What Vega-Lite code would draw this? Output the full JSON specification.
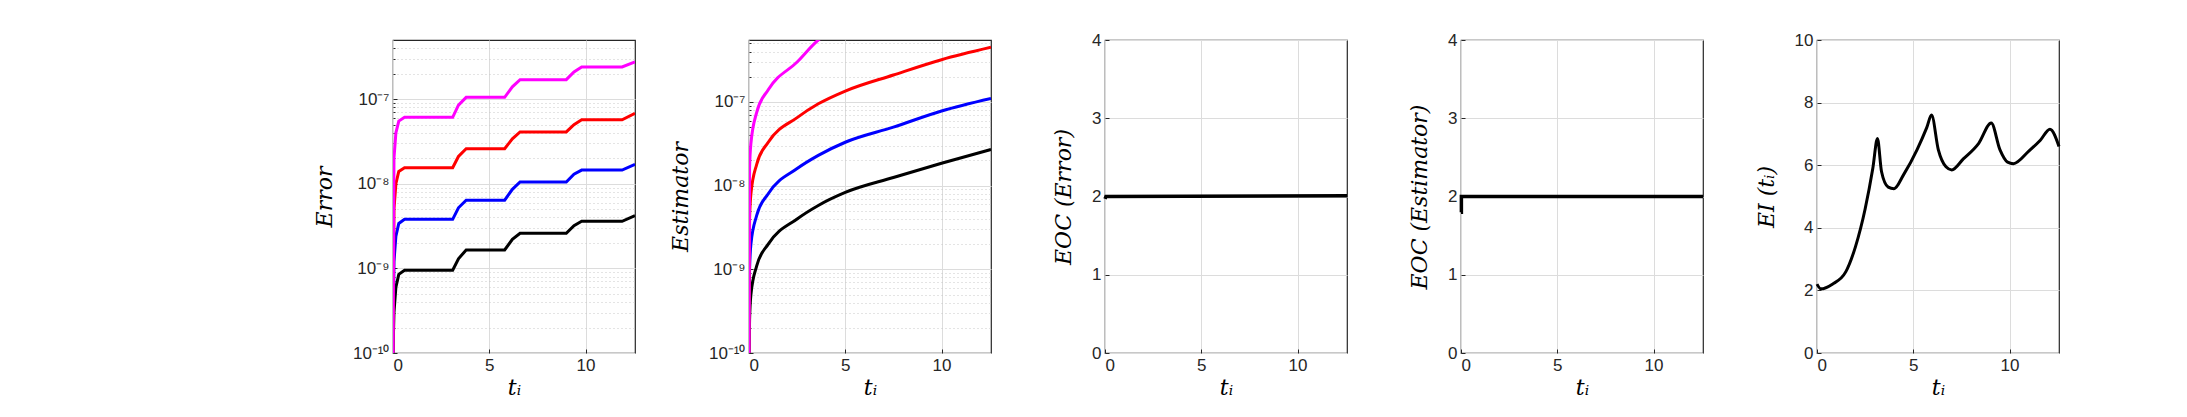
{
"$schema":"https://vega.github.io/schema/vega-lite/v6.json",
"background":"white",
"padding":{"left":312,"top":30,"right":5,"bottom":5},
"spacing":114,
"bounds":"flush",
"config":{"view":{"stroke":"#262626","strokeWidth":1.2},
"axis":{"labelFont":"Liberation Sans","labelFontSize":17,"labelPadding":8,"labelColor":"#262626","titleFont":"DejaVu Serif","titleFontStyle":"italic","titleFontWeight":"normal","titleFontSize":22,"titleColor":"#000","gridColor":"#dcdcdc","domain":false,"tickColor":"#262626","tickSize":-4,"ticks":true}},
"datasets":{
"err":[
{"t":0,"k":1e-10,"b":1e-10,"r":1e-10,"m":1e-10},
{"t":0.05,"k":3e-10,"b":1.2e-9,"r":5e-9,"m":2e-8},
{"t":0.15,"k":6e-10,"b":2.4e-9,"r":1e-8,"m":4e-8},
{"t":0.3,"k":8.5e-10,"b":3.4e-9,"r":1.4e-8,"m":5.5e-8},
{"t":0.6,"k":9.5e-10,"b":3.8e-9,"r":1.55e-8,"m":6.1e-8},
{"t":3.1,"k":9.5e-10,"b":3.8e-9,"r":1.55e-8,"m":6.1e-8},
{"t":3.4,"k":1.3e-9,"b":5.2e-9,"r":2.1e-8,"m":8.5e-8},
{"t":3.8,"k":1.65e-9,"b":6.4e-9,"r":2.6e-8,"m":1.05e-7},
{"t":5.8,"k":1.65e-9,"b":6.4e-9,"r":2.6e-8,"m":1.05e-7},
{"t":6.2,"k":2.2e-9,"b":8.6e-9,"r":3.4e-8,"m":1.4e-7},
{"t":6.6,"k":2.6e-9,"b":1.05e-8,"r":4.1e-8,"m":1.7e-7},
{"t":9.0,"k":2.6e-9,"b":1.05e-8,"r":4.1e-8,"m":1.7e-7},
{"t":9.4,"k":3.2e-9,"b":1.3e-8,"r":5e-8,"m":2.1e-7},
{"t":9.8,"k":3.6e-9,"b":1.45e-8,"r":5.7e-8,"m":2.4e-7},
{"t":11.9,"k":3.6e-9,"b":1.45e-8,"r":5.7e-8,"m":2.4e-7},
{"t":12.57,"k":4.2e-9,"b":1.7e-8,"r":6.8e-8,"m":2.75e-7}],
"est":[
{"t":0,"k":1e-10,"b":1e-10,"r":1e-10,"m":1e-10},
{"t":0.03,"k":2.5e-10,"b":1e-9,"r":4e-9,"m":1.6e-8},
{"t":0.1,"k":5e-10,"b":2e-9,"r":8e-9,"m":3.2e-8},
{"t":0.4,"k":1.1e-9,"b":4.4e-9,"r":1.8e-8,"m":7.5e-8},
{"t":1,"k":2e-9,"b":8e-9,"r":3.3e-8,"m":1.4e-7},
{"t":2.5,"k":4e-9,"b":1.6e-8,"r":6.5e-8,"m":3e-7},
{"t":3.6,"k":5.8e-9,"b":2.3e-8,"r":9.5e-8,"m":5.5e-7},
{"t":5,"k":8.3e-9,"b":3.3e-8,"r":1.35e-7,"m":8e-7},
{"t":7.5,"k":1.25e-8,"b":5e-8,"r":2.1e-7,"m":1.2e-6},
{"t":10,"k":1.85e-8,"b":7.8e-8,"r":3.2e-7,"m":1.8e-6},
{"t":12.57,"k":2.7e-8,"b":1.1e-7,"r":4.5e-7,"m":2.6e-6}],
"eoc1":[{"t":0,"v":1.97},{"t":0.05,"v":2.0},{"t":12.57,"v":2.01}],
"eoc2":[{"t":0,"v":1.8},{"t":0.02,"v":2.0},{"t":12.57,"v":2.0}],
"ei":[{"t":0,"v":2.2},{"t":0.2,"v":2.05},{"t":0.8,"v":2.2},{"t":1.5,"v":2.6},{"t":2.0,"v":3.4},{"t":2.5,"v":4.6},{"t":2.9,"v":5.9},{"t":3.14,"v":6.85},{"t":3.35,"v":5.8},{"t":3.7,"v":5.3},{"t":4.0,"v":5.25},{"t":4.5,"v":5.7},{"t":5.2,"v":6.5},{"t":5.7,"v":7.2},{"t":5.95,"v":7.6},{"t":6.3,"v":6.5},{"t":6.7,"v":5.95},{"t":7.0,"v":5.85},{"t":7.6,"v":6.2},{"t":8.4,"v":6.7},{"t":9.05,"v":7.35},{"t":9.5,"v":6.5},{"t":9.9,"v":6.1},{"t":10.2,"v":6.05},{"t":11.0,"v":6.45},{"t":11.6,"v":6.8},{"t":12.1,"v":7.15},{"t":12.57,"v":6.6}]
},
"hconcat":[
{"width":242,"height":313,"data":{"name":"err"},
"transform":[{"fold":["k","b","r","m"],"as":["s","y"]}],
"mark":{"type":"line","strokeWidth":3,"clip":true},
"encoding":{"x":{"field":"t","type":"quantitative","scale":{"domain":[0,12.57],"nice":false},"axis":{"values":[0,5,10],"title":"tᵢ"}},
"y":{"field":"y","type":"quantitative","scale":{"type":"log","domain":[1e-10,5e-7],"nice":false},
"axis":{"title":"Error","titlePadding":16,"values":[1e-10,2e-10,3e-10,4e-10,5e-10,6e-10,7e-10,8e-10,9e-10,1e-9,2e-9,3e-9,4e-9,5e-9,6e-9,7e-9,8e-9,9e-9,1e-8,2e-8,3e-8,4e-8,5e-8,6e-8,7e-8,8e-8,9e-8,1e-7,2e-7,3e-7,4e-7],
"labelExpr":"datum.value==1e-10?'10⁻¹⁰':datum.value==1e-9?'10⁻⁹':datum.value==1e-8?'10⁻⁸':datum.value==1e-7?'10⁻⁷':''",
"gridDash":{"condition":{"test":"datum.value==1e-10||datum.value==1e-9||datum.value==1e-8||datum.value==1e-7","value":[]},"value":[1,3]},
"gridColor":{"condition":{"test":"datum.value==1e-10||datum.value==1e-9||datum.value==1e-8||datum.value==1e-7","value":"#dcdcdc"},"value":"#c8c8c8"},
"tickSize":{"condition":{"test":"datum.value==1e-10||datum.value==1e-9||datum.value==1e-8||datum.value==1e-7","value":-4},"value":-2}}},
"color":{"field":"s","type":"nominal","scale":{"domain":["k","b","r","m"],"range":["#000000","#0000ff","#ff0000","#ff00ff"]},"legend":null},
"order":{"field":"t","type":"quantitative"}}},
{"width":242,"height":313,"data":{"name":"est"},
"transform":[{"fold":["k","b","r","m"],"as":["s","y"]}],
"mark":{"type":"line","strokeWidth":3,"clip":true,"interpolate":"monotone"},
"encoding":{"x":{"field":"t","type":"quantitative","scale":{"domain":[0,12.57],"nice":false},"axis":{"values":[0,5,10],"title":"tᵢ"}},
"y":{"field":"y","type":"quantitative","scale":{"type":"log","domain":[1e-10,5.5e-7],"nice":false},
"axis":{"title":"Estimator","titlePadding":16,"values":[1e-10,2e-10,3e-10,4e-10,5e-10,6e-10,7e-10,8e-10,9e-10,1e-9,2e-9,3e-9,4e-9,5e-9,6e-9,7e-9,8e-9,9e-9,1e-8,2e-8,3e-8,4e-8,5e-8,6e-8,7e-8,8e-8,9e-8,1e-7,2e-7,3e-7,4e-7,5e-7],
"labelExpr":"datum.value==1e-10?'10⁻¹⁰':datum.value==1e-9?'10⁻⁹':datum.value==1e-8?'10⁻⁸':datum.value==1e-7?'10⁻⁷':''",
"gridDash":{"condition":{"test":"datum.value==1e-10||datum.value==1e-9||datum.value==1e-8||datum.value==1e-7","value":[]},"value":[1,3]},
"gridColor":{"condition":{"test":"datum.value==1e-10||datum.value==1e-9||datum.value==1e-8||datum.value==1e-7","value":"#dcdcdc"},"value":"#c8c8c8"},
"tickSize":{"condition":{"test":"datum.value==1e-10||datum.value==1e-9||datum.value==1e-8||datum.value==1e-7","value":-4},"value":-2}}},
"color":{"field":"s","type":"nominal","scale":{"domain":["k","b","r","m"],"range":["#000000","#0000ff","#ff0000","#ff00ff"]},"legend":null},
"order":{"field":"t","type":"quantitative"}}},
{"width":242,"height":313,"data":{"name":"eoc1"},
"mark":{"type":"line","strokeWidth":3.5,"color":"#000"},
"encoding":{"x":{"field":"t","type":"quantitative","scale":{"domain":[0,12.57],"nice":false},"axis":{"values":[0,5,10],"title":"tᵢ"}},
"y":{"field":"v","type":"quantitative","scale":{"domain":[0,4],"nice":false},"axis":{"values":[0,1,2,3,4],"title":"EOC (Error)","titlePadding":16}}}},
{"width":242,"height":313,"data":{"name":"eoc2"},
"mark":{"type":"line","strokeWidth":3.5,"color":"#000","interpolate":"step-after"},
"encoding":{"x":{"field":"t","type":"quantitative","scale":{"domain":[0,12.57],"nice":false},"axis":{"values":[0,5,10],"title":"tᵢ"}},
"y":{"field":"v","type":"quantitative","scale":{"domain":[0,4],"nice":false},"axis":{"values":[0,1,2,3,4],"title":"EOC (Estimator)","titlePadding":16}}}},
{"width":242,"height":313,"data":{"name":"ei"},
"mark":{"type":"line","strokeWidth":3,"color":"#000","interpolate":"monotone"},
"encoding":{"x":{"field":"t","type":"quantitative","scale":{"domain":[0,12.57],"nice":false},"axis":{"values":[0,5,10],"title":"tᵢ"}},
"y":{"field":"v","type":"quantitative","scale":{"domain":[0,10],"nice":false},"axis":{"values":[0,2,4,6,8,10],"title":"EI (tᵢ)","titlePadding":16}}}}
]
}
